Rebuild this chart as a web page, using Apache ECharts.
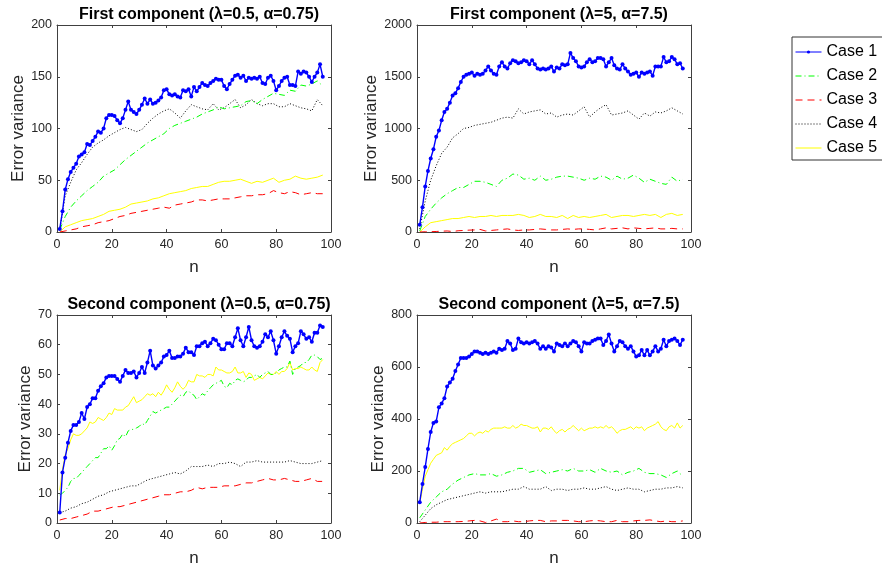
<!DOCTYPE html>
<html>
<head>
<meta charset="utf-8">
<script src="https://cdn.jsdelivr.net/npm/echarts@6/dist/echarts.min.js"></script>
<style>
  html, body { margin: 0; padding: 0; background: #fff; }
  #main { width: 882px; height: 569px; }
</style>
</head>
<body>
<div id="main"></div>
<script>
// case names and subplot titles
var caseNames = ['Case 1', 'Case 2', 'Case 3', 'Case 4', 'Case 5'];
var plotTitles = [
  'First component (λ=0.5, α=0.75)',
  'First component (λ=5, α=7.5)',
  'Second component (λ=0.5, α=0.75)',
  'Second component (λ=5, α=7.5)'
];
var yMax = [200, 2000, 70, 800];
var yStep = [50, 500, 10, 200];

// Case 1 values at every n = 1..97
var p1Case1 = [3,20,41,51,58,62,66,73,75,77, 85,84,88,92,97,96,100,110,113,113,
  112,108,105,110,118,126,118,116,114,118, 123,129,124,128,124,125,127,130,137,138,
  133,132,133,131,130,137,136,138,131,140, 136,140,144,142,141,144,146,148,147,147,
  141,138,143,147,151,152,149,151,146,149, 148,149,148,150,144,143,149,151,146,137,
  141,146,149,150,142,142,141,155,153,155, 154,150,145,150,154,162,150];
var p2Case1 = [70,240,440,590,710,800,920,980,1080,1160, 1190,1250,1320,1340,1390,1450,1500,1520,1530,1540,
  1510,1530,1520,1530,1560,1600,1560,1530,1520,1600, 1640,1600,1580,1630,1660,1650,1630,1640,1660,1650,
  1620,1660,1620,1580,1570,1580,1570,1580,1600,1550, 1590,1580,1620,1610,1620,1730,1680,1650,1600,1590,
  1600,1640,1670,1640,1650,1680,1680,1670,1600,1640, 1680,1610,1580,1570,1620,1580,1550,1520,1530,1540,
  1500,1540,1530,1540,1550,1510,1600,1600,1600,1690, 1640,1650,1690,1670,1620,1630,1580];
var p3Case1 = [3.5,17,22,27,31,33,33,34,37,35, 39,40,42,42,44.5,46,47,49,49.5,49.5,
  49.5,48.5,47.5,49.5,51.5,50.5,50.5,51,49,50.5, 52.5,50.5,54,58,53,52,53,54,56,56.5,
  58,55.5,55.5,56,56,57,59,57.5,57.5,56.5, 59.5,59.5,60.5,61,59.5,60.5,62,61.5,60,58.5,
  58.5,60.5,60.5,59.5,62.5,65.5,61.5,59.5,62.5,66, 61.5,59.5,59,59.5,61,63.5,62.5,64.5,61.5,57,
  59.5,62.5,64.5,63,62,57.5,59.5,60.5,64.5,63.5, 62,62.5,61,64,64,66.5,66];
var p4Case1 = [80,150,215,285,350,385,390,445,460,480, 525,540,555,585,610,635,635,635,640,650,
  660,660,655,650,655,650,655,660,655,670, 665,670,700,690,665,670,710,695,690,695,
  690,695,700,690,670,680,670,680,675,660, 690,685,680,690,680,690,700,695,680,660,
  695,690,690,700,705,710,710,685,700,725, 690,660,680,700,695,680,670,680,660,640,
  645,665,645,665,645,660,680,660,670,705, 680,700,705,710,700,685,705];

// Case 5 (plots 3 and 4) and Case 2 (plot 3) at every n
var p3Case5 = [11,18,23,25,28,30,29.5,29.5,30,31, 32,34,33.5,34,35.5,35,34.5,35.5,37,36.5,
  38.5,38,38,38,39,39.5,41,42.5,40.5,41, 41.5,42.5,43.5,43,43.5,42.5,44,43,44.5,46.5,
  45,44,45.5,47.5,46,45,46,48,47.5,47.5, 50,49.5,49.5,49,50,50,49.5,52.5,51.5,51.5,
  51,50.5,50.5,51,52.5,50.5,50.5,51,49,50.5, 50,48,48.5,49,48.5,49.5,50.5,50,50,51,
  50,51,51,52,54,51.5,52,52,52.5,52, 51.5,51.5,52.5,51.5,51,54,55];
var p3Case2 = [9.5,10,11,12,14,15,15,16,17,18, 19,20,21,22,22,23.5,25,25,26,24.5,
  26,28,28.5,30,29,31,31.5,31.5,32,32.5, 33.5,33,34.5,36,37.5,37,37.5,38,38.5,39,
  39,40,41,42,43,42.5,44,44.5,43.5,43, 41.5,42.5,43.5,43,44.5,45.5,46.5,47,47.5,48,
  46,45.5,47,46.5,48,48.5,48,47.5,48,49, 49,49.5,50,49,50,50.5,51,50,50,50.5,
  51.5,52,52.5,52.5,54.5,50,52,52.5,53,54, 54,55,56.5,56.5,56,55,55.5];
var p4Case5 = [75,130,180,205,230,245,260,265,270,290, 280,295,305,310,315,320,325,335,345,345,
  335,345,350,345,355,350,360,365,365,365, 365,370,365,365,375,365,370,380,375,375,
  370,365,365,370,350,365,365,360,370,355, 345,355,360,350,360,365,375,365,355,365,
  355,360,365,365,370,365,370,365,375,365, 370,360,345,355,360,360,365,370,360,370,
  365,370,355,365,370,375,380,390,370,360, 355,370,375,365,385,365,375];

// remaining series, read at odd n = 1, 3, ..., 97
var p1Case2 = [2,15,24,30,35,40,44,48,54,57,60,65,70,74,78,82,86,89,92,95,100,103,105,107,109,
  111,114,116,118,121,119,120,121,122,126,127,124,128,131,134,133,132,137,136,142,141,143,146,141];
var p1Case3 = [0,1,2,3,5,6,7,9,10,11,13,15,16,18,19,20,21,22,23,24,23,26,27,28,29,
  31,31,30,31,32,32,32,33,34,35,35,36,36,37,40,38,37,39,38,36,37,38,37,37];
var p1Case4 = [2,35,48,60,67,75,82,86,89,93,96,99,101,99,97,99,105,110,114,117,119,115,110,117,123,
  121,119,118,124,118,120,124,128,120,123,128,124,122,124,124,121,121,124,122,120,119,117,128,122];
var p1Case5 = [0,5,7,9,11,12,13,15,17,20,21,22,24,27,28,29,30,32,33,35,37,38,39,40,42,
  43,44,44,46,48,49,49,50,51,49,47,49,48,50,52,48,50,51,54,52,51,52,53,55];
var p2Case2 = [10,150,220,280,330,370,400,430,430,460,490,490,480,460,440,500,520,560,550,510,520,500,540,500,510,
  530,540,540,530,520,500,520,510,540,530,500,540,510,520,550,520,480,510,490,470,460,530,490,510];
var p2Case3 = [0,2,3,5,8,10,5,12,15,18,20,25,10,15,20,25,30,20,15,20,20,25,30,25,20,
  20,25,30,25,30,30,25,20,30,40,30,35,40,30,40,35,30,35,40,30,30,35,30,30];
var p2Case4 = [30,300,500,640,760,820,910,950,1000,1010,1030,1040,1050,1060,1080,1100,1110,1100,1190,1140,1160,1170,1180,1140,1150,
  1110,1130,1140,1130,1170,1210,1110,1160,1200,1230,1130,1140,1150,1170,1130,1090,1150,1120,1160,1150,1170,1200,1170,1140];
var p2Case5 = [0,50,90,100,110,120,130,130,140,150,140,150,150,160,150,160,160,160,170,160,140,150,170,150,150,
  140,160,130,160,140,150,140,150,160,170,140,150,160,160,150,160,170,160,170,140,170,180,160,170];
var p3Case3 = [1,1.5,1.5,2,2.5,3,4,4,4.5,5,5.5,5.5,6,6.5,7,7.5,8,8.5,9,9.5,9.5,10,10.5,10.5,11,
  12,11.5,12,12,12,12.5,12.5,12.5,13,13.5,13.5,14,14.5,15,14.5,14.5,15,14.5,14,14,14.5,15,14,14];
var p3Case4 = [3.5,4,5,5.5,6.5,7,8,9,9.5,10.5,11,11.5,12,12.5,12.5,13.5,14.5,15,15.5,16,16.5,17,16.5,17.5,19,
  19,19,19.5,19,20,20,20.5,20,19,20.5,20.5,21,20.5,20.5,20.5,20.5,20.5,21,20.5,20,20,20,20.5,21];
var p4Case2 = [20,50,80,100,120,130,150,165,175,185,190,185,185,190,180,185,195,200,210,210,195,200,205,190,195,
  200,205,200,210,200,200,205,195,210,200,195,200,185,195,200,210,195,190,190,185,175,190,200,180];
var p4Case3 = [0,2,3,3,5,5,5,5,6,8,10,8,2,8,15,5,5,8,5,5,8,10,10,5,8,
  8,10,10,8,5,5,8,10,8,5,5,10,5,5,8,10,10,12,8,5,8,5,5,8];
var p4Case4 = [5,30,55,70,80,90,95,100,105,110,115,120,115,120,120,120,125,130,130,140,130,130,130,140,125,
  130,130,125,130,130,135,130,130,135,140,130,125,130,135,130,130,120,125,130,130,135,135,140,135];

function everyN(arr) { return arr.map(function (v, i) { return [i + 1, v]; }); }
function oddN(arr) { return arr.map(function (v, i) { return [2 * i + 1, v]; }); }

var plotData = [
  [everyN(p1Case1), oddN(p1Case2), oddN(p1Case3), oddN(p1Case4), oddN(p1Case5)],
  [everyN(p2Case1), oddN(p2Case2), oddN(p2Case3), oddN(p2Case4), oddN(p2Case5)],
  [everyN(p3Case1), everyN(p3Case2), oddN(p3Case3), oddN(p3Case4), everyN(p3Case5)],
  [everyN(p4Case1), oddN(p4Case2), oddN(p4Case3), oddN(p4Case4), everyN(p4Case5)]
];

var caseColors = ['#0000ff', '#00ff00', '#ff0000', '#000000', '#ffff00'];
var caseDash = ['solid', [6, 3, 1, 3], [7, 5], [1, 2], 'solid'];
var caseWidth = [1.4, 1, 1, 1, 1];

var gridPos = [
  { left: 57, top: 25, width: 274, height: 207 },
  { left: 417, top: 25, width: 274, height: 207 },
  { left: 57, top: 315, width: 274, height: 208 },
  { left: 417, top: 315, width: 274, height: 208 }
];
var yNameGap = [30, 35, 23, 30];
var axisColor = '#262626';

var myChart = echarts.init(document.getElementById('main'));

var grids = [], xAxes = [], yAxes = [], titles = [], series = [];
gridPos.forEach(function (g, p) {
  grids.push({ left: g.left, top: g.top, width: g.width, height: g.height, containLabel: false });
  titles.push({
    text: plotTitles[p],
    left: g.left + g.width / 2,
    top: g.top - 23,
    textAlign: 'center',
    textStyle: { fontFamily: 'Liberation Sans', fontSize: 16, fontWeight: 'bold', color: '#000' }
  });
  var lineStyle = { color: '#404040', width: 1 };
  // bottom / top x axes
  xAxes.push({
    gridIndex: p, type: 'value', min: 0, max: 100, interval: 20, position: 'bottom',
    name: 'n', nameLocation: 'middle', nameGap: 27,
    nameTextStyle: { fontFamily: 'Liberation Sans', fontSize: 17, color: axisColor },
    axisLine: { show: true, onZero: false, lineStyle: lineStyle },
    axisTick: { show: true, inside: true, length: 3, lineStyle: lineStyle },
    axisLabel: { fontFamily: 'Liberation Sans', fontSize: 12.5, color: axisColor, margin: 6 },
    splitLine: { show: false }
  });
  xAxes.push({
    gridIndex: p, type: 'value', min: 0, max: 100, interval: 20, position: 'top',
    axisLine: { show: true, onZero: false, lineStyle: lineStyle },
    axisTick: { show: true, inside: true, length: 3, lineStyle: lineStyle },
    axisLabel: { show: false }, splitLine: { show: false }
  });
  // left / right y axes
  yAxes.push({
    gridIndex: p, type: 'value', min: 0, max: yMax[p], interval: yStep[p], position: 'left',
    name: 'Error variance', nameLocation: 'middle', nameGap: yNameGap[p],
    nameTextStyle: { fontFamily: 'Liberation Sans', fontSize: 17, color: axisColor },
    axisLine: { show: true, onZero: false, lineStyle: lineStyle },
    axisTick: { show: true, inside: true, length: 3, lineStyle: lineStyle },
    axisLabel: {
      fontFamily: 'Liberation Sans', fontSize: 12.5, color: axisColor, margin: 5,
      formatter: function (v) { return String(v); }
    },
    splitLine: { show: false }
  });
  yAxes.push({
    gridIndex: p, type: 'value', min: 0, max: yMax[p], interval: yStep[p], position: 'right',
    axisLine: { show: true, onZero: false, lineStyle: lineStyle },
    axisTick: { show: true, inside: true, length: 3, lineStyle: lineStyle },
    axisLabel: { show: false }, splitLine: { show: false }
  });

  plotData[p].forEach(function (data, c) {
    series.push({
      name: caseNames[c],
      type: 'line',
      xAxisIndex: 2 * p,
      yAxisIndex: 2 * p,
      data: data,
      symbol: c === 0 ? 'circle' : 'none',
      symbolSize: 4,
      showSymbol: c === 0,
      itemStyle: { color: caseColors[c] },
      lineStyle: { color: caseColors[c], width: caseWidth[c], type: caseDash[c] },
      z: 10 - c,
      silent: true
    });
  });
});

// legend entries: only Case 1 shows its point marker
var legendData = caseNames.map(function (name, c) {
  return { name: name, itemStyle: { opacity: c === 0 ? 1 : 0 } };
});

var option = {
  animation: false,
  backgroundColor: '#fff',
  title: titles,
  legend: {
    data: legendData,
    orient: 'vertical',
    left: 792,
    top: 37,
    padding: [7, 12, 4, 3],
    itemWidth: 26,
    itemHeight: 4,
    itemGap: 8,
    borderColor: '#333',
    borderWidth: 1,
    lineStyle: { width: 1 },
    textStyle: { fontFamily: 'Liberation Sans', fontSize: 16, color: '#000' }
  },
  grid: grids,
  xAxis: xAxes,
  yAxis: yAxes,
  series: series
};
myChart.setOption(option);
</script>
</body>
</html>
